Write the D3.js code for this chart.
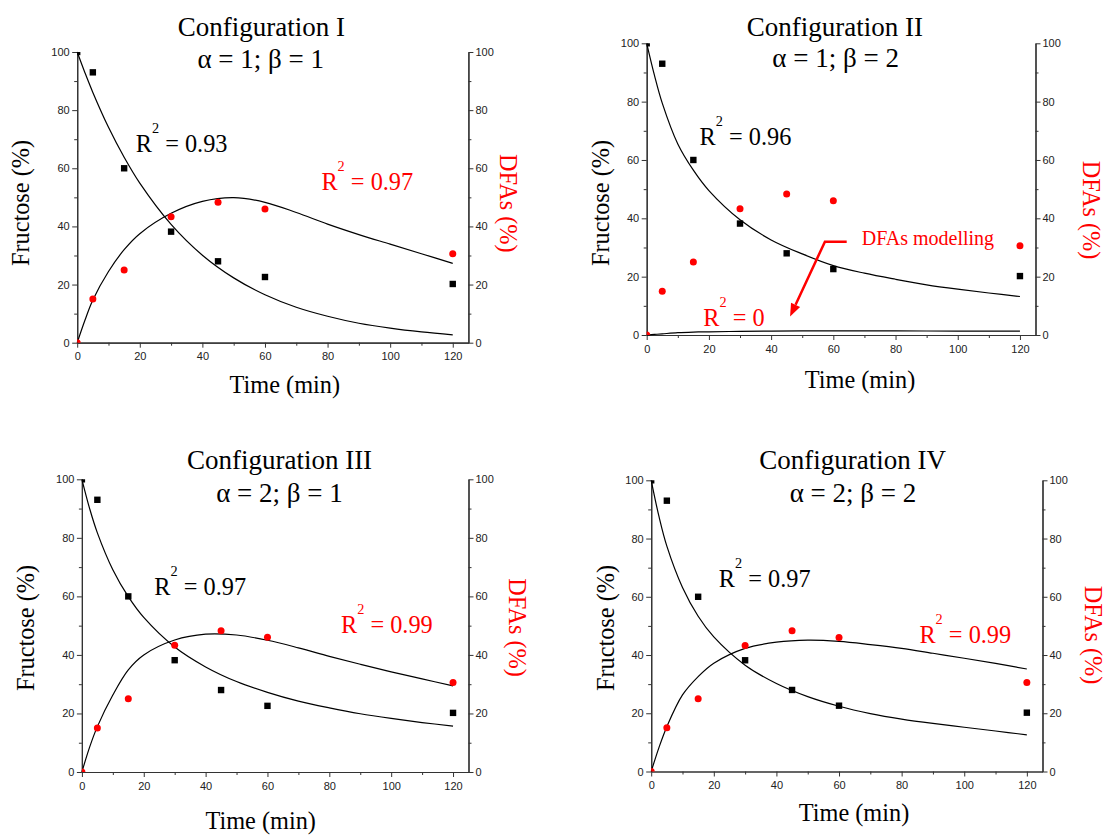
<!DOCTYPE html>
<html>
<head>
<meta charset="utf-8">
<script src="https://cdn.jsdelivr.net/npm/d3@7/dist/d3.min.js"></script>
<style>
  body { margin: 0; background: #fff; }
  svg { display: block; }
  text { white-space: pre; }
  .serif { font-family: "Liberation Serif", "Times New Roman", serif; font-size: 27px; }
</style>
</head>
<body>
<div id="chart"></div>
<script>
// measured points (same for every configuration)
const times = [0, 5, 15, 30, 45, 60, 120];
const fructose = [100, 93, 60, 38.2, 28, 22.6, 20.2];
const dfas = [0, 15, 25, 43.3, 48.3, 46, 30.6];

// model curves
const modelTimes = [0, 2.5, 5, 10, 15, 20, 30, 40, 50, 60, 70, 80, 90, 100, 110, 120];
const fructoseModelI   = [100, 92.8, 86.1, 74.1, 63.8, 54.9, 40.7, 30.1, 22.3, 16.5, 12.2, 9.1, 6.7, 5.0, 3.7, 2.7];
const dfasModelI       = [0, 7.8, 14.7, 24.5, 32, 37.5, 44.5, 48.6, 49.9, 48.3, 44.8, 40.8, 37.2, 33.9, 30.6, 27.3];
const fructoseModelII  = [100, 89, 79.5, 65.5, 56.5, 49.5, 39.5, 32.6, 27.8, 23.8, 21.2, 19.1, 17.2, 15.7, 14.4, 13.2];
const dfasModelII      = [0, 0.2, 0.4, 0.8, 1.0, 1.1, 1.25, 1.35, 1.4, 1.4, 1.4, 1.4, 1.38, 1.35, 1.32, 1.3];
const fructoseModelIII = [100, 90, 81.7, 69.1, 59.9, 52.8, 42.7, 35.9, 30.9, 27.2, 24.2, 21.9, 19.9, 18.3, 16.9, 15.7];
const dfasModelIII     = [0, 8.5, 15.5, 26.3, 34.9, 40, 45.1, 47.1, 46.8, 45, 42.4, 39.5, 36.8, 34.2, 31.8, 29.4];
const fructoseModelIV  = [100, 87.5, 77.4, 63.2, 53.3, 46.2, 36.5, 30.2, 25.7, 22.4, 19.9, 18, 16.5, 15.2, 13.9, 12.6];
const dfasModelIV      = [0, 8.3, 15.4, 26.3, 32.6, 37.2, 42.3, 44.4, 45.1, 44.7, 43.6, 42.3, 40.6, 38.9, 37.1, 35.2];

const configNames = ["Configuration I", "Configuration II", "Configuration III", "Configuration IV"];
const paramLabels = ["α = 1; β = 1", "α = 1; β = 2", "α = 2; β = 1", "α = 2; β = 2"];
const r2Fructose = ["0.93", "0.96", "0.97", "0.97"];
const r2Dfas = ["0.97", "0", "0.99", "0.99"];

const xTicks = [0, 20, 40, 60, 80, 100, 120];
const xMinor = [10, 30, 50, 70, 90, 110];
const yTicks = [0, 20, 40, 60, 80, 100];
const yMinor = [10, 30, 50, 70, 90];

// annotation arrow of configuration II, in data units (min, %)
const arrowTimes = [64.3, 57.3, 46.1];
const arrowValues = [32, 32, 6.3];

const W = 1107, H = 836;
const sans = "'Liberation Sans', Arial, sans-serif";
const baseSize = 27;      // serif texts are drawn at 27px and scaled
const labelSize = 24.3;

const panels = [
  { left: 77.2, top: 52, right: 468.4, bottom: 342.7,
    fm: fructoseModelI, dm: dfasModelI,
    title: [261.4, 36.3], param: [260.7, 68.3], time: [284.8, 392.5],
    fLab: [29, 203], dLab: [500, 203.3],
    r2f: [135.7, 151.7], r2d: [321.4, 190] },
  { left: 646.7, top: 43.3, right: 1035.5, bottom: 335,
    fm: fructoseModelII, dm: dfasModelII,
    title: [834.8, 36], param: [835.6, 66.7], time: [860, 387.7],
    fLab: [609, 203], dLab: [1083, 210],
    r2f: [699.6, 145], r2d: [703.3, 326] },
  { left: 81.9, top: 479.3, right: 468.5, bottom: 772,
    fm: fructoseModelIII, dm: dfasModelIII,
    title: [279.5, 468.7], param: [279.5, 501.7], time: [260.7, 829.3],
    fLab: [34, 628], dLab: [509, 627.5],
    r2f: [154.3, 595], r2d: [341, 633.3] },
  { left: 651.2, top: 480.3, right: 1042.5, bottom: 771.5,
    fm: fructoseModelIV, dm: dfasModelIV,
    title: [852.7, 468.7], param: [853, 501.7], time: [854, 821],
    fLab: [614.4, 628], dLab: [1084.5, 635],
    r2f: [718.8, 586.7], r2d: [919.4, 643.3] }
];

const svg = d3.select("#chart").append("svg")
  .attr("width", W).attr("height", H)
  .attr("viewBox", `0 0 ${W} ${H}`);

// serif text at an arbitrary size: draw at baseSize, scale the group
function serifText(g, x, y, size, rotate) {
  return g.append("g")
    .attr("transform", `translate(${x},${y}) rotate(${rotate || 0}) scale(${size / baseSize})`)
    .append("text")
    .attr("class", "serif");
}

function r2Text(g, x, y, value, color) {
  const k = baseSize / labelSize;
  const t = serifText(g, x, y, labelSize).attr("fill", color);
  t.append("tspan").text("R");
  t.append("tspan").style("font-size", (14.3 * k) + "px").attr("dy", -19 * k).text("2");
  t.append("tspan").attr("dy", 19 * k).text(" = " + value);
}

function styleAxis(sel) {
  sel.select(".domain").attr("stroke", "#333").attr("stroke-width", 1.2);
  sel.selectAll(".tick line").attr("stroke", "#333").attr("stroke-width", 1);
  sel.selectAll(".tick text")
    .attr("font-family", sans)
    .attr("font-size", 11)
    .attr("fill", "#222");
}

panels.forEach((p, i) => {
  const g = svg.append("g");

  const x = d3.scaleLinear().domain([0, 125]).range([p.left, p.right]);
  const y = d3.scaleLinear().domain([0, 100]).range([p.bottom, p.top]);

  // minor ticks
  g.append("g").attr("transform", `translate(0,${p.bottom})`)
    .call(d3.axisBottom(x).tickValues(xMinor).tickSize(3).tickFormat("").tickSizeOuter(0))
    .call(styleAxis);
  g.append("g").attr("transform", `translate(${p.left},0)`)
    .call(d3.axisLeft(y).tickValues(yMinor).tickSize(3).tickFormat("").tickSizeOuter(0))
    .call(styleAxis);
  g.append("g").attr("transform", `translate(${p.right},0)`)
    .call(d3.axisRight(y).tickValues(yMinor).tickSize(3).tickFormat("").tickSizeOuter(0))
    .call(styleAxis);

  // major ticks
  g.append("g").attr("transform", `translate(0,${p.bottom})`)
    .call(d3.axisBottom(x).tickValues(xTicks).tickSize(5).tickPadding(5).tickSizeOuter(0))
    .call(styleAxis);
  g.append("g").attr("transform", `translate(${p.left},0)`)
    .call(d3.axisLeft(y).tickValues(yTicks).tickSize(5).tickPadding(2.5).tickSizeOuter(0))
    .call(styleAxis);
  g.append("g").attr("transform", `translate(${p.right},0)`)
    .call(d3.axisRight(y).tickValues(yTicks).tickSize(5).tickPadding(2).tickSizeOuter(0))
    .call(styleAxis);

  // model curves
  const line = d3.line()
    .x(d => x(d[0]))
    .y(d => y(d[1]))
    .curve(d3.curveCatmullRom.alpha(0.5));

  [p.fm, p.dm].forEach(vals => {
    g.append("path")
      .datum(modelTimes.map((t, k) => [t, vals[k]]))
      .attr("d", line)
      .attr("fill", "none")
      .attr("stroke", "#000")
      .attr("stroke-width", 1.2);
  });

  // markers, clipped to the plot area
  const clipId = "clip" + i;
  g.append("clipPath").attr("id", clipId)
    .append("rect")
    .attr("x", p.left).attr("y", p.top)
    .attr("width", p.right - p.left).attr("height", p.bottom - p.top);
  const marks = g.append("g").attr("clip-path", `url(#${clipId})`);

  marks.selectAll("circle")
    .data(times.map((t, k) => [t, dfas[k]]))
    .join("circle")
    .attr("cx", d => x(d[0]))
    .attr("cy", d => y(d[1]))
    .attr("r", 3.5)
    .attr("fill", "#ff0000");

  marks.selectAll("rect.sq")
    .data(times.map((t, k) => [t, fructose[k]]))
    .join("rect")
    .attr("class", "sq")
    .attr("x", d => x(d[0]) - 3.2)
    .attr("y", d => y(d[1]) - 3.2)
    .attr("width", 6.4)
    .attr("height", 6.4)
    .attr("fill", "#000");

  // titles
  serifText(g, p.title[0], p.title[1], 27)
    .attr("text-anchor", "middle")
    .text(configNames[i]);
  serifText(g, p.param[0], p.param[1], 27)
    .attr("text-anchor", "middle")
    .text(paramLabels[i]);

  // axis labels
  serifText(g, p.time[0], p.time[1], labelSize)
    .attr("text-anchor", "middle")
    .text("Time (min)");
  serifText(g, p.fLab[0], p.fLab[1], labelSize, -90)
    .attr("text-anchor", "middle")
    .text("Fructose (%)");
  serifText(g, p.dLab[0], p.dLab[1], labelSize, 90)
    .attr("text-anchor", "middle")
    .attr("fill", "#ff0000")
    .text("DFAs (%)");

  r2Text(g, p.r2f[0], p.r2f[1], r2Fructose[i], "#000");
  r2Text(g, p.r2d[0], p.r2d[1], r2Dfas[i], "#ff0000");

  if (i === 1) {
    const pts = arrowTimes.map((t, k) => [x(t), y(arrowValues[k])]);
    const tip = pts[2], from = pts[1];
    const dx = tip[0] - from[0], dy = tip[1] - from[1];
    const len = Math.hypot(dx, dy);
    const ux = dx / len, uy = dy / len;
    const headL = 13, headW = 5;
    const base = [tip[0] - ux * headL, tip[1] - uy * headL];

    g.append("path")
      .attr("d", d3.line()([pts[0], pts[1], base]))
      .attr("fill", "none")
      .attr("stroke", "#ff0000")
      .attr("stroke-width", 2.5);
    g.append("path")
      .attr("d", d3.line()([
        tip,
        [base[0] - uy * headW, base[1] + ux * headW],
        [base[0] + uy * headW, base[1] - ux * headW]
      ]) + "Z")
      .attr("fill", "#ff0000");

    serifText(g, 861.7, 245, 20)
      .attr("fill", "#ff0000")
      .text("DFAs modelling");
  }
});
</script>
</body>
</html>
